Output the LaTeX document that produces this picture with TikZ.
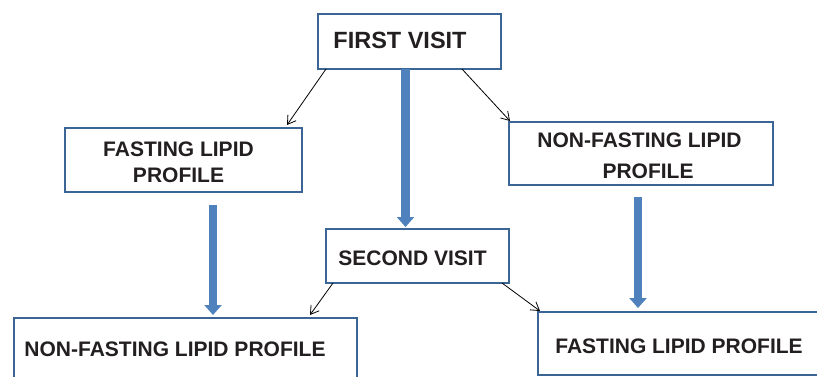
\documentclass[tikz,border=0pt]{standalone}
\usepackage{fontspec}
\setmainfont{Liberation Sans}
\usepackage{tikz}
\usetikzlibrary{arrows.meta, positioning, calc}
\definecolor{boxline}{HTML}{3A6595}
\definecolor{fatblue}{HTML}{4F81BD}
\definecolor{ink}{HTML}{231F20}

\begin{document}
\begin{tikzpicture}[x=1pt, y=-1pt, >=Stealth,
    box/.style={draw=boxline, line width=2.5pt, fill=white, outer sep=0pt, inner sep=0pt},
    lbl/.style={font=\bfseries\fontsize{21}{26}\selectfont, text=ink, inner sep=0pt, align=center},
    thin/.style={-{Straight Barb[length=8pt, width=10pt]}, line width=0.8pt},
    fat/.style={fatblue, line width=8.5pt, -{Triangle[length=10pt, width=17pt]}}]
  \useasboundingbox (0,0) rectangle (817,377);
  \clip (0,0) rectangle (817,377);

  % Boxes
  \node[box, minimum width=183pt, minimum height=55pt] (first) at (409.5,41.5) {};
  \node[box, minimum width=237pt, minimum height=64pt] (fast) at (183.5,160) {};
  \node[box, minimum width=264pt, minimum height=63pt] (nonfast) at (641,153.5) {};
  \node[box, minimum width=183pt, minimum height=54pt] (second) at (417.5,256) {};
  \node[box, minimum width=343pt, minimum height=82pt] (nfbot) at (185.5,359) {};
  \node[box, minimum width=302pt, minimum height=63pt] (fbot) at (689,343.5) {};

  % Texts
  \node[lbl, font=\bfseries\fontsize{23.5}{28}\selectfont] (firsttxt) at (400,40) {FIRST VISIT};
  \node[lbl] (fasttxt) at (178.5,162) {FASTING LIPID\\PROFILE};
  \node[lbl, font=\bfseries\fontsize{21}{31}\selectfont] (nonfasttxt) at (639.5,156) {NON-FASTING LIPID\\\hspace*{17pt}PROFILE};
  \node[lbl] (secondtxt) at (412.5,258.5) {SECOND VISIT};
  \node[lbl] (nfbottxt) at (175,349.5) {NON-FASTING LIPID PROFILE};
  \node[lbl] (fbottxt) at (679,346.5) {FASTING LIPID PROFILE};

  % Thin arrows
  \draw[thin] ([xshift=8pt]first.south west) -- ([xshift=-15pt, yshift=3pt]fast.north east);
  \draw[thin] ([xshift=-39pt]first.south east) -- ([xshift=1pt, yshift=1pt]nonfast.north west);
  \draw[thin] ([xshift=7pt]second.south west) -- ([xshift=-47pt, yshift=3pt]nfbot.north east);
  \draw[thin] ([xshift=-7pt]second.south east) -- ([xshift=2pt, yshift=1pt]fbot.north west);

  % Thick arrows
  \coordinate (lstart) at (213,205);
  \coordinate (rstart) at (638,197);
  \draw[fat] ([xshift=-4pt]first.south) -- ([xshift=-12pt, yshift=2pt]second.north);
  \draw[fat] (lstart) -- ($(lstart |- nfbot.north)+(0,-3)$);
  \draw[fat] (rstart) -- ($(rstart |- fbot.north)+(0,-4)$);
\end{tikzpicture}
\end{document}
